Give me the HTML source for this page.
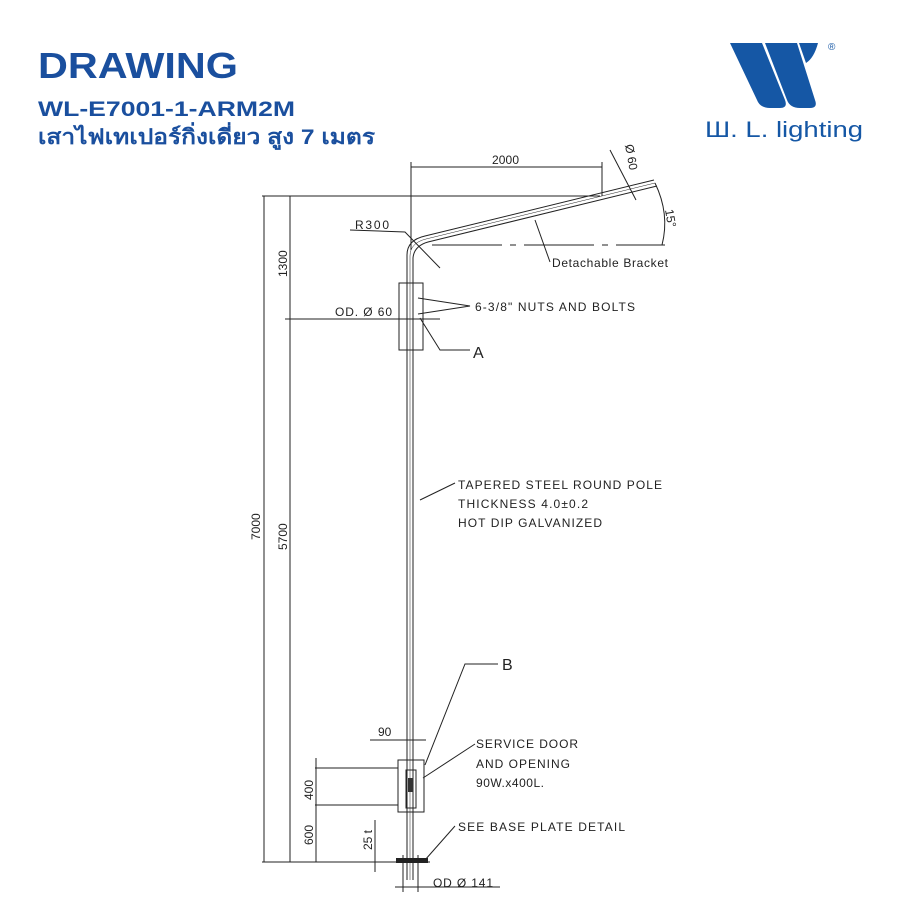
<!DOCTYPE html>
<html><head><meta charset="utf-8"><style>
body{margin:0;width:900px;height:900px;background:#fff;overflow:hidden}
svg{display:block}
.t{font-family:"Liberation Sans",Arial,sans-serif;fill:#222}
</style></head><body>
<svg width="900" height="900" viewBox="0 0 900 900">
<g font-family="'Liberation Sans','Noto Sans CJK SC',sans-serif" fill="#1a4f9e" font-weight="bold">
<text x="38" y="78" font-size="36" textLength="200" lengthAdjust="spacingAndGlyphs">DRAWING</text>
<text x="38" y="116" font-size="21" textLength="257" lengthAdjust="spacingAndGlyphs">WL-E7001-1-ARM2M</text>
<text x="38" y="144" font-size="21" textLength="337" lengthAdjust="spacingAndGlyphs">เสาไฟเทเปอร์กิ่งเดี่ยว สูง 7 เมตร</text>
</g>
<!-- logo -->
<g fill="#1557a5">
<path d="M730 43 L762 43 L785 100 Q788 108 780 108 L770 108 Q760 108 757 100 Z"/>
<path d="M765 43 L797 43 L815 100 Q818 108 810 108 L800 108 Q790 108 787 100 Z"/>
<path d="M799 43 L818 43 Q814 58 806 63 Z"/>
</g>
<text x="828" y="50" font-size="10" fill="#1557a5" font-family="Liberation Sans,sans-serif">®</text>
<text x="705" y="137" font-size="22" fill="#1557a5" font-family="Liberation Sans,sans-serif" textLength="158" lengthAdjust="spacingAndGlyphs">Ш. L. lighting</text>
<g stroke="#222" fill="none" stroke-width="1">
<path d="M407 880 L407 255 Q407 240 425 236 L654 180" />
<path d="M413 880 L413 258 Q414 246 428 242 L657 186" />
<path d="M410 880 L410 256 Q410 243 426 239 L655 183" stroke-width="0.5"/>
<line x1="262" y1="196" x2="600" y2="196"/>
<line x1="411" y1="167" x2="602" y2="167"/>
<line x1="411" y1="162" x2="411" y2="250"/>
<line x1="602" y1="162" x2="602" y2="196"/>
<line x1="264" y1="196" x2="264" y2="862"/>
<line x1="290" y1="196" x2="290" y2="862"/>
<line x1="285" y1="319" x2="440" y2="319"/>
<line x1="262" y1="862" x2="430" y2="862"/>
<rect x="399" y="283" width="24" height="67"/>
<path d="M418 298 L470 306 L418 314"/>
<path d="M420 318 L440 350 L470 350"/>
<path d="M350 230 L405 232 L440 268"/>
<line x1="432" y1="245" x2="665" y2="245" stroke-dasharray="70,8,6,8"/>
<path d="M655 183 Q670 214 662 245"/>
<line x1="535" y1="220" x2="550" y2="262"/>
<line x1="610" y1="150" x2="636" y2="200"/>
<line x1="420" y1="500" x2="455" y2="483"/>
<path d="M425 765 L465 664 L498 664"/>
<rect x="398" y="760" width="26" height="52"/>
<rect x="406" y="770" width="10" height="38"/>
<line x1="370" y1="740" x2="426" y2="740"/>
<line x1="316" y1="758" x2="316" y2="862"/>
<line x1="315" y1="768" x2="398" y2="768"/>
<line x1="315" y1="805" x2="398" y2="805"/>
<line x1="375" y1="820" x2="375" y2="872"/>
<line x1="423" y1="778" x2="475" y2="744"/>
<line x1="425" y1="860" x2="455" y2="826"/>
<line x1="403" y1="855" x2="403" y2="892"/>
<line x1="418" y1="855" x2="418" y2="892"/>
<line x1="395" y1="887" x2="500" y2="887"/>
</g>
<rect x="408" y="778" width="5" height="14" fill="#333"/>
<rect x="396" y="858" width="32" height="5" fill="#222"/>
<g class="t" font-size="12" lengthAdjust="spacingAndGlyphs">
<text x="492" y="164" textLength="27">2000</text>
<text x="355" y="229" textLength="34">R300</text>
<text x="552" y="267" textLength="116">Detachable Bracket</text>
<text x="475" y="311" textLength="160">6-3/8" NUTS AND BOLTS</text>
<text x="335" y="316" textLength="57">OD. Ø 60</text>
<text x="473" y="358" font-size="16">A</text>
<text x="502" y="670" font-size="16">B</text>
<text x="458" y="489" textLength="204">TAPERED STEEL ROUND POLE</text>
<text x="458" y="508" textLength="130">THICKNESS 4.0±0.2</text>
<text x="458" y="527" textLength="144">HOT DIP GALVANIZED</text>
<text x="378" y="736">90</text>
<text x="476" y="748" textLength="102">SERVICE DOOR</text>
<text x="476" y="768" textLength="94">AND OPENING</text>
<text x="476" y="787" textLength="68">90W.x400L.</text>
<text x="458" y="831" textLength="167">SEE BASE PLATE DETAIL</text>
<text x="433" y="887" textLength="60">OD Ø 141</text>
<text transform="translate(260,540) rotate(-90)">7000</text>
<text transform="translate(287,277) rotate(-90)">1300</text>
<text transform="translate(287,550) rotate(-90)">5700</text>
<text transform="translate(313,800) rotate(-90)">400</text>
<text transform="translate(313,845) rotate(-90)">600</text>
<text transform="translate(372,850) rotate(-90)">25 t</text>
<text transform="translate(665,210) rotate(80)">15°</text>
<text transform="translate(625,145) rotate(80)">Ø 60</text>
</g>
</svg>
</body></html>
